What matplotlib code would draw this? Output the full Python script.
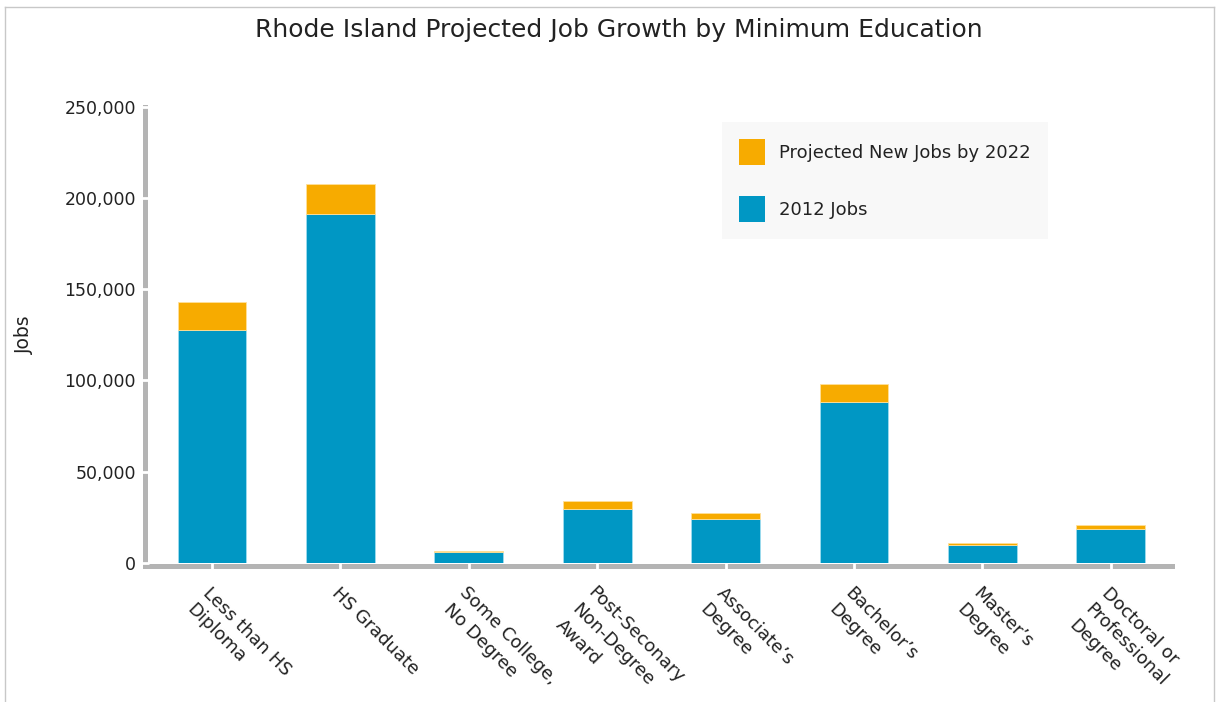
import numpy as np
import matplotlib
matplotlib.use('Agg')
import matplotlib.pyplot as plt
from matplotlib.lines import Line2D
from matplotlib.patches import Patch
from matplotlib.ticker import FuncFormatter
from matplotlib.transforms import ScaledTranslation

# Данные
categories = ['Less than HS\nDiploma', 'HS Graduate', 'Some College,\nNo Degree',
              'Post-Seconary\nNon-Degree\nAward', 'Associate\u2019s\nDegree',
              'Bachelor\u2019s\nDegree', 'Master\u2019s\nDegree',
              'Doctoral or\nProfessional\nDegree']
jobs_2012 = [127600, 191000, 6000, 29400, 24100, 87900, 9500, 18300]
new_jobs_2022 = [15500, 16500, 400, 4600, 3300, 9900, 1100, 2200]
y_ticks = [0, 50000, 100000, 150000, 200000, 250000]

blue = '#0097c4'
orange = '#f7ab00'
grey = '#b4b4b4'
text_col = '#222222'

plt.rcParams['font.family'] = 'DejaVu Sans'

fig = plt.figure(figsize=(12.2, 7.02), dpi=100)
W, H = 1220, 702
ax = fig.add_axes([145 / W, 1 - 562.7 / H, (1172 - 145) / W, (562.7 - 106.7) / H])

x = np.arange(len(categories))
ax.bar(x, jobs_2012, width=0.537, color=blue, edgecolor='#9fdcef', linewidth=0.6)
ax.bar(x, new_jobs_2022, bottom=jobs_2012, width=0.537, color=orange,
       edgecolor='#ffe09a', linewidth=0.6)

ax.set_xlim(-0.522, 7.477)
ax.set_ylim(0, 250000)

# оси
for s in ['top', 'right']:
    ax.spines[s].set_visible(False)
ax.spines['left'].set_color(grey)
ax.spines['left'].set_linewidth(3.6)
ax.spines['bottom'].set_color(grey)
ax.spines['bottom'].set_linewidth(3.6)
ax.spines['bottom'].set_position(('outward', 2.7))

# белые риски — разрывы на линиях осей
ax.set_yticks(y_ticks)
ax.yaxis.set_major_formatter(FuncFormatter(lambda v, p: f'{int(v):,}'))
ax.tick_params(axis='y', direction='inout', length=6, width=2, color='white',
               pad=3.5, labelsize=12.5, labelcolor=text_col)
ax.set_xticks(x)
ax.tick_params(axis='x', direction='inout', length=5, width=2, color='white',
               labelbottom=False)
ax.xaxis.set_zorder(3)
ax.yaxis.set_zorder(3)

# подписи категорий: каждая строка отдельно, повёрнуты на -45°
line_step = 23  # px между строками
k = np.sqrt(0.5)
base = ax.get_xaxis_transform()
for xi, lab in zip(x, categories):
    for i, line in enumerate(lab.split('\n')):
        off = ScaledTranslation((0 - i * line_step * k) / fig.dpi,
                                (-21 - i * line_step * k) / fig.dpi,
                                fig.dpi_scale_trans)
        ax.text(xi, 0, line, transform=base + off, rotation=-45,
                rotation_mode='anchor', ha='left', va='top', fontsize=13,
                color=text_col, clip_on=False)

ax.set_ylabel('Jobs', fontsize=13.5, color=text_col)
ax.yaxis.set_label_coords(-0.108, 0.5)

fig.text(0.507, 1 - 30 / H, 'Rhode Island Projected Job Growth by Minimum Education',
         ha='center', va='center', fontsize=18, color=text_col)

handles = [Patch(facecolor=orange, edgecolor='none'), Patch(facecolor=blue, edgecolor='none')]
leg = ax.legend(handles, ['Projected New Jobs by 2022', '2012 Jobs'],
                loc='upper left', bbox_to_anchor=(722 / W, 1 - 122 / H),
                bbox_transform=fig.transFigure, borderaxespad=0,
                frameon=True, fancybox=False, facecolor='#f8f8f8', edgecolor='none',
                framealpha=1, fontsize=13, handlelength=1.45, handleheight=1.8,
                handletextpad=0.75, labelspacing=1.75, borderpad=0.95)
for t in leg.get_texts():
    t.set_color(text_col)

# рамка вокруг картинки
border = dict(color='#c8c8c8', linewidth=1, transform=fig.transFigure)
fig.add_artist(Line2D([5 / W, 5 / W], [0, 1 - 7 / H], **border))
fig.add_artist(Line2D([5 / W, 1214 / W], [1 - 7 / H, 1 - 7 / H], **border))
fig.add_artist(Line2D([1214 / W, 1214 / W], [0, 1 - 7 / H], **border))

fig.savefig('out.png', dpi=100)
